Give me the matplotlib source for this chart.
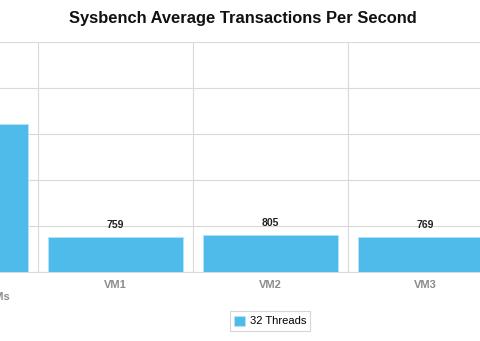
import matplotlib.pyplot as plt

plt.rcParams['font.family'] = ['Liberation Sans', 'DejaVu Sans']

categories = ['Physical Host\nRunning Zero VMs', 'VM1', 'VM2', 'VM3']
tps_32 = [3220, 759, 805, 769]
shown_labels = [False, True, True, True]

bar_color = '#4fbbeb'
grid_color = '#d9d9d9'

fig = plt.figure(figsize=(4.8, 3.41), dpi=100)
# plot area is wider than the figure, left column runs off the edge
ax = fig.add_axes([-117 / 480, 69 / 341, 620 / 480, 230 / 341])

x = list(range(len(categories)))
ax.bar(x, tps_32, width=0.87, color=bar_color, edgecolor='#b8e3f7',
       linewidth=0.6, zorder=3, label='32 Threads')

for xi, v, show in zip(x, tps_32, shown_labels):
    if show:
        ax.annotate(str(v), (xi, v), xytext=(0, 5), textcoords='offset points',
                    ha='center', va='bottom', fontsize=7.5, fontweight='bold',
                    color='#222222')

ax.set_xlim(-0.5, len(categories) - 0.5)
ax.set_ylim(0, 5000)
ax.set_yticks([0, 1000, 2000, 3000, 4000, 5000])
ax.set_yticklabels([])
ax.tick_params(axis='y', length=0)
ax.grid(axis='y', color=grid_color, linewidth=0.8, zorder=0)

for b in [0.5, 1.5, 2.5]:
    ax.axvline(b, color=grid_color, linewidth=0.8, zorder=0)

ax.set_xticks(x)
ax.set_xticklabels(categories, fontsize=8, fontweight='bold', color='#8c8c8c')
ax.tick_params(axis='x', length=0, pad=6)

for s in ['top', 'right', 'left']:
    ax.spines[s].set_visible(False)
ax.spines['bottom'].set_color(grid_color)

fig.suptitle('Sysbench Average Transactions Per Second', x=0.505, y=0.967,
             fontsize=11.9, fontweight='bold', color='#111111')

leg = fig.legend(loc='center', bbox_to_anchor=(270 / 480, 20 / 341),
                 fontsize=8, frameon=True, fancybox=False, handlelength=1.0,
                 handleheight=1.0, borderpad=0.4, handletextpad=0.4)
leg.get_frame().set_edgecolor('#cccccc')
leg.get_frame().set_linewidth(0.8)

fig.savefig('out.png', dpi=100)
